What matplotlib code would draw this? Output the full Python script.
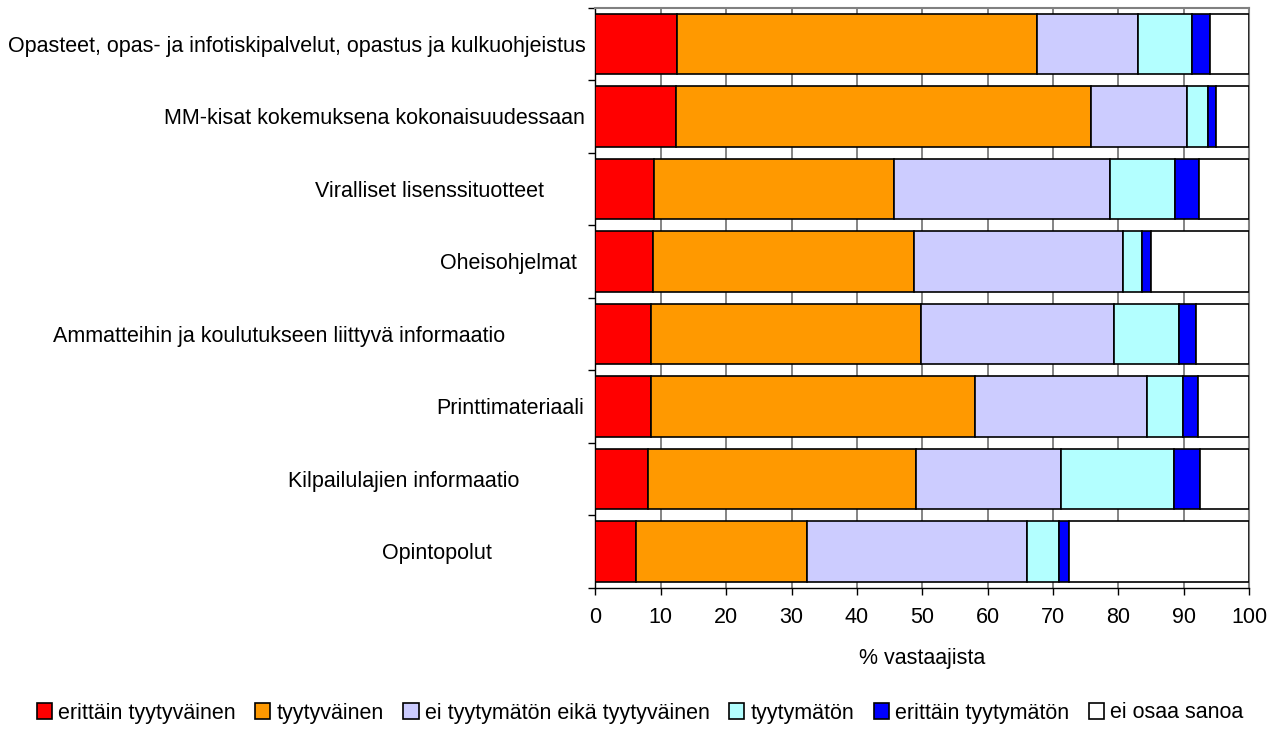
import matplotlib.pyplot as plt
from matplotlib.transforms import ScaledTranslation
import numpy as np

plt.rcParams['font.family'] = ['Liberation Sans', 'DejaVu Sans']

categories = [
    "Opasteet, opas- ja infotiskipalvelut, opastus ja kulkuohjeistus",
    "MM-kisat kokemuksena kokonaisuudessaan",
    "Viralliset lisenssituotteet",
    "Oheisohjelmat",
    "Ammatteihin ja koulutukseen liittyvä informaatio",
    "Printtimateriaali",
    "Kilpailulajien informaatio",
    "Opintopolut",
]

series_names = [
    "erittäin tyytyväinen",
    "tyytyväinen",
    "ei tyytymätön eikä tyytyväinen",
    "tyytymätön",
    "erittäin tyytymätön",
    "ei osaa sanoa",
]

erittain_tyytyvainen = [12.5, 12.3, 9.0, 8.8, 8.55, 8.55, 8.0, 6.2]
tyytyvainen = [55.0, 63.6, 36.7, 39.9, 41.2, 49.5, 41.0, 26.1]
ei_kumpikaan = [15.5, 14.6, 33.0, 32.0, 29.6, 26.4, 22.2, 33.7]
tyytymaton = [8.3, 3.2, 10.0, 3.0, 10.0, 5.4, 17.3, 4.9]
erittain_tyytymaton = [2.75, 1.3, 3.6, 1.3, 2.6, 2.3, 4.0, 1.6]
ei_osaa_sanoa = [6.0, 5.0, 7.7, 15.0, 8.0, 7.8, 7.5, 27.5]

colors = ['#FF0000', '#FF9900', '#CCCCFF', '#B3FFFF', '#0000FF', '#FFFFFF']

# how far each label's right edge sits left of the default position (pixels)
label_shift_px = [0, 0, 41, 8, 80, 1, 66, 93]

series = [erittain_tyytyvainen, tyytyvainen, ei_kumpikaan,
          tyytymaton, erittain_tyytymaton, ei_osaa_sanoa]

FS = 15.5

fig = plt.figure(figsize=(12.83, 7.47), dpi=100)
ax = fig.add_axes([0.4641, 0.2133, 0.9735 - 0.4641, 0.9897 - 0.2133])

y = np.arange(len(categories))
left = np.zeros(len(categories))
for name, vals, col in zip(series_names, series, colors):
    ax.barh(y, vals, left=left, height=0.83, color=col, edgecolor='black',
            linewidth=1.2, label=name, zorder=3)
    left += np.array(vals)

ax.set_xlim(0, 100)
ax.set_ylim(len(categories) - 0.5, -0.5)
ax.set_xticks(np.arange(0, 101, 10))
ax.tick_params(axis='x', labelsize=FS, length=5, width=1.0, direction='out', pad=9)
ax.xaxis.grid(True, color='#707070', linewidth=1.2, zorder=0)
ax.set_axisbelow(True)

ax.set_yticks(y)
ax.set_yticklabels(categories)
ax.set_yticks(np.arange(-0.5, len(categories), 1), minor=True)
ax.tick_params(axis='y', which='major', length=0, labelsize=FS, pad=7.3)
ax.tick_params(axis='y', which='minor', length=5, width=1.0, direction='out')
for lbl, px in zip(ax.get_yticklabels(), label_shift_px):
    lbl.set_transform(lbl.get_transform() + ScaledTranslation(-px / 100, 0, fig.dpi_scale_trans))

for s in ['top', 'right']:
    ax.spines[s].set_color('#808080')
    ax.spines[s].set_linewidth(1.5)
for s in ['left', 'bottom']:
    ax.spines[s].set_color('black')
    ax.spines[s].set_linewidth(1.0)

ax.set_xlabel('% vastaajista', fontsize=FS, labelpad=14)

fig.legend(loc='center', bbox_to_anchor=(0.499, 1 - 713 / 747), ncol=6,
           frameon=False, fontsize=FS, handlelength=0.7, handleheight=0.7,
           handletextpad=0.3, columnspacing=0.9, borderaxespad=0)

plt.savefig('out.png', dpi=100)
